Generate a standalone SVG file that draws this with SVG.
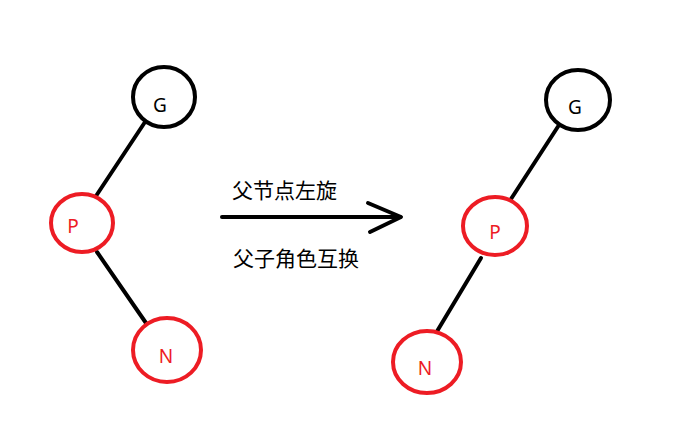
<svg xmlns="http://www.w3.org/2000/svg" width="678" height="427" viewBox="0 0 678 427">
<style>
.blk{fill:#fff;stroke:#000;stroke-width:4}
.red{fill:#fff;stroke:#ed1c24;stroke-width:4}
.lbl{font-family:"Noto Sans","Noto Sans CJK SC",sans-serif;font-size:19px;text-anchor:middle}
.lk{fill:#000}
.lr{fill:#ed1c24}
.cn{font-family:"Noto Sans CJK SC","Noto Sans",sans-serif;font-size:21px;fill:#000}
.edge{stroke:#000;stroke-width:4;fill:none;stroke-linecap:round;stroke-linejoin:round}
</style>
<rect width="678" height="427" fill="#fff"/>
<g id="connectors">
<line class="edge" x1="145" y1="122" x2="96" y2="196"/>
<line class="edge" x1="97" y1="252" x2="146" y2="323"/>
<line class="edge" x1="559" y1="125" x2="511" y2="199"/>
<line class="edge" x1="481" y1="258" x2="436" y2="333"/>
<line class="edge" x1="222" y1="217" x2="400" y2="217"/>
<polyline class="edge" points="368,203 401,217 370,232"/>
</g>
<g id="G1"><ellipse class="blk" cx="164" cy="97" rx="31" ry="30"/><text class="lbl lk" x="160" y="112">G</text></g>
<g id="P1"><ellipse class="red" cx="82" cy="223" rx="31" ry="29"/><text class="lbl lr" x="73" y="233">P</text></g>
<g id="N1"><ellipse class="red" cx="167" cy="350" rx="34" ry="32"/><text class="lbl lr" x="166" y="363">N</text></g>
<g id="G2"><ellipse class="blk" cx="578" cy="100" rx="32" ry="30"/><text class="lbl lk" x="575" y="114">G</text></g>
<g id="P2"><ellipse class="red" cx="495" cy="226" rx="32" ry="29"/><text class="lbl lr" x="495" y="239">P</text></g>
<g id="N2"><ellipse class="red" cx="427" cy="362" rx="34" ry="31"/><text class="lbl lr" x="425" y="375">N</text></g>
<g id="labels">
<text class="cn" x="232" y="198">父节点左旋</text>
<text class="cn" x="233" y="266">父子角色互换</text>
</g>
</svg>
